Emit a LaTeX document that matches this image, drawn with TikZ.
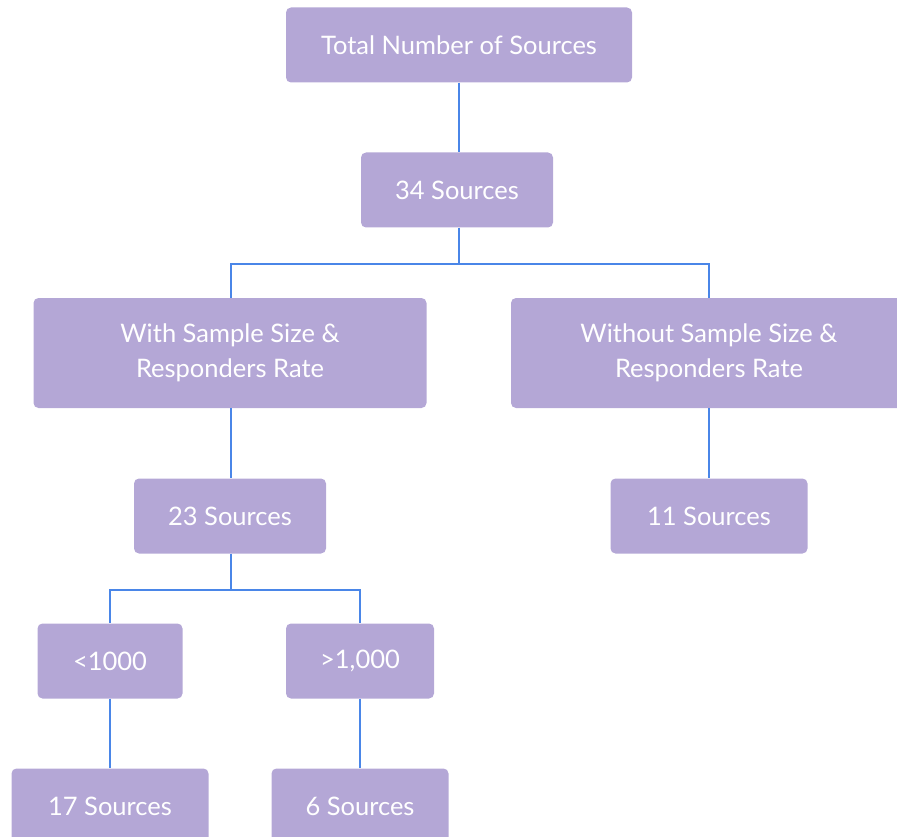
\documentclass[tikz,border=0pt]{standalone}
\usepackage{fontspec}
\setmainfont{Lato}
\usetikzlibrary{positioning,calc}
\definecolor{boxpurple}{HTML}{B4A7D6}
\definecolor{linkblue}{HTML}{4A86E8}

\begin{document}
\begin{tikzpicture}[
    x=1pt, y=-1pt,
    box/.style={rectangle, fill=boxpurple, text=white, align=center, minimum height=75pt, rounded corners=5pt, inner sep=0pt, font=\fontsize{25.5}{35}\selectfont},
    bigbox/.style={box, minimum height=110pt},
    link/.style={draw=linkblue, line width=1.5pt}
]
\useasboundingbox (0,0) rectangle (897,837);

% Tree
\node[box, minimum width=346pt] (total) at (459,45) {Total Number of Sources};
\node[box, minimum width=192pt] (s34) at (457,190) {34 Sources};
\node[bigbox, minimum width=393pt] (with) at (230,353) {With Sample Size \&\\Responders Rate};
\node[bigbox, minimum width=396pt] (without) at (709,353) {Without Sample Size \&\\Responders Rate};
\node[box, minimum width=192pt] (s23) at (230,516) {23 Sources};
\node[box, minimum width=197pt] (s11) at (709,516) {11 Sources};
\node[box, minimum width=145pt] (small) at (110,661) {<1000};
\node[box, minimum width=148pt] (large) at (360,661) {>1,000};
\node[box, minimum width=197pt] (s17) at (110,806) {17 Sources};
\node[box, minimum width=177pt] (s6) at (360,806) {6 Sources};

% Links
\coordinate (j1) at (459,264);
\coordinate (j2) at (231,590);
\draw[link] (total.south -| j1) -- (s34.north -| j1);
\draw[link] (s34.south -| j1) -- (j1);
\draw[link] (j1) -| (with.north -| j2);
\draw[link] (j1) -| (without);
\draw[link] (with.south -| j2) -- (s23.north -| j2);
\draw[link] (without) -- (s11);
\draw[link] (s23.south -| j2) -- (j2);
\draw[link] (j2) -| (small);
\draw[link] (j2) -| (large);
\draw[link] (small) -- (s17);
\draw[link] (large) -- (s6);

\end{tikzpicture}
\end{document}
